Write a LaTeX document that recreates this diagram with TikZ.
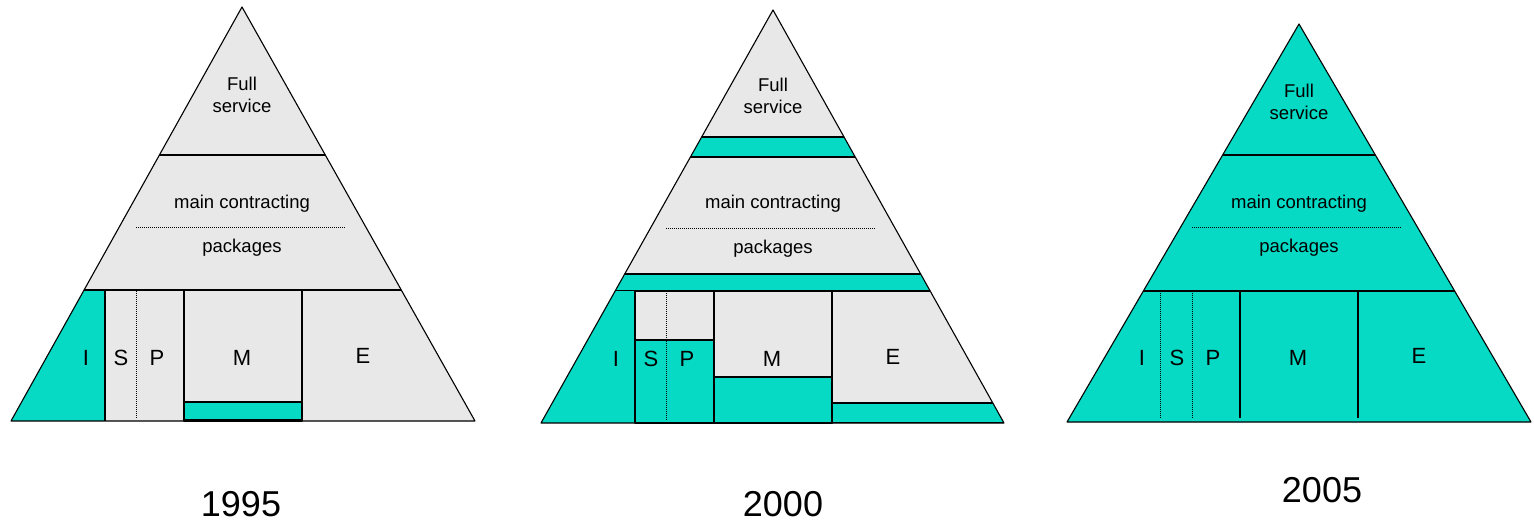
\documentclass[tikz,border=0pt]{standalone}
\usepackage{fontspec}
\setmainfont{Liberation Sans}
\definecolor{turq}{RGB}{6,217,196}
\definecolor{lgrey}{RGB}{232,232,232}

\begin{document}
\begin{tikzpicture}[x=1pt,y=-1pt,line width=1.1pt,line join=round,
	share/.style={draw=black,fill=turq},
	sep/.style={line width=0.6pt,dash pattern=on 1pt off 1pt},
	every node/.style={font=\fontsize{18.5}{22}\selectfont,align=center,inner sep=0pt},
	letter/.style={font=\fontsize{22}{26}\selectfont},
	year/.style={font=\fontsize{36}{40}\selectfont}]

	\useasboundingbox (0,0) rectangle (1534,521);

	% 1995
	\coordinate (top95) at (242,7);
	\coordinate (left95) at (11,421);
	\coordinate (right95) at (475,421);
	\fill[lgrey] (top95) -- (left95) -- (right95) -- cycle;
	\begin{scope}
		\clip (top95) -- (left95) -- (right95) -- cycle;
		\fill[turq] (0,290) rectangle (105,421);
		\draw (0,155) -- (500,155);
		\draw (0,290) -- (500,290);
	\end{scope}
	\draw (105,290) -- (105,421);
	\draw[sep] (136,291) -- (136,418);
	\draw (184,290) rectangle (302,421);
	\draw[share] (184,402) rectangle (302,420);
	\draw[sep] (136,227) -- (345,227);
	\draw (top95) -- (left95) -- (right95) -- cycle;

	\node (full95) at (242,95) {Full\\service};
	\node (main95) at (242,204) {main contracting};
	\node (pack95) at (242,248) {packages};
	\begin{scope}[every node/.append style={letter}]
		\node (i95) at (86,358) {I};
		\node (s95) at (121,358) {S};
		\node (p95) at (157,358) {P};
		\node (m95) at (242,358) {M};
		\node (e95) at (363,356) {E};
	\end{scope}
	\node[year] (y95) at (241,504) {1995};

	% 2000
	\coordinate (top00) at (773,10);
	\coordinate (left00) at (541,423);
	\coordinate (right00) at (1004,423);
	\fill[lgrey] (top00) -- (left00) -- (right00) -- cycle;
	\begin{scope}
		\clip (top00) -- (left00) -- (right00) -- cycle;
		\draw[share] (500,137) rectangle (1050,157);
		\draw[share] (500,274) rectangle (1050,291);
		\fill[turq] (500,291) rectangle (635,423);
		\draw[share] (832,403) rectangle (1050,423);
	\end{scope}
	\draw (635,291) -- (635,423);
	\draw[share] (635,340) rectangle (714,423);
	\draw[sep] (666,291) -- (666,420);
	\draw (714,291) rectangle (832,423);
	\draw[share] (714,377) rectangle (832,423);
	\draw[sep] (666,228) -- (875,228);
	\draw (top00) -- (left00) -- (right00) -- cycle;

	\node (full00) at (773,96) {Full\\service};
	\node (main00) at (773,204) {main contracting};
	\node (pack00) at (773,249) {packages};
	\begin{scope}[every node/.append style={letter}]
		\node (i00) at (616,359) {I};
		\node (s00) at (651,359) {S};
		\node (p00) at (687,359) {P};
		\node (m00) at (772,359) {M};
		\node (e00) at (893,357) {E};
	\end{scope}
	\node[year] (y00) at (783,504) {2000};

	% 2005
	\coordinate (top05) at (1299,24);
	\coordinate (left05) at (1067,422);
	\coordinate (right05) at (1531,422);
	\fill[turq] (top05) -- (left05) -- (right05) -- cycle;
	\begin{scope}
		\clip (top05) -- (left05) -- (right05) -- cycle;
		\draw (1050,155) -- (1550,155);
		\draw (1050,291) -- (1550,291);
	\end{scope}
	\draw[sep] (1160,291) -- (1160,418);
	\draw[sep] (1192,291) -- (1192,418);
	\draw (1240,291) -- (1240,418);
	\draw (1358,291) -- (1358,418);
	\draw[sep] (1192,227) -- (1401,227);
	\draw (top05) -- (left05) -- (right05) -- cycle;

	\node (full05) at (1299,102) {Full\\service};
	\node (main05) at (1299,204) {main contracting};
	\node (pack05) at (1299,248) {packages};
	\begin{scope}[every node/.append style={letter}]
		\node (i05) at (1142,358) {I};
		\node (s05) at (1177,358) {S};
		\node (p05) at (1213,358) {P};
		\node (m05) at (1298,358) {M};
		\node (e05) at (1419,356) {E};
	\end{scope}
	\node[year] (y05) at (1322,490) {2005};

\end{tikzpicture}
\end{document}
